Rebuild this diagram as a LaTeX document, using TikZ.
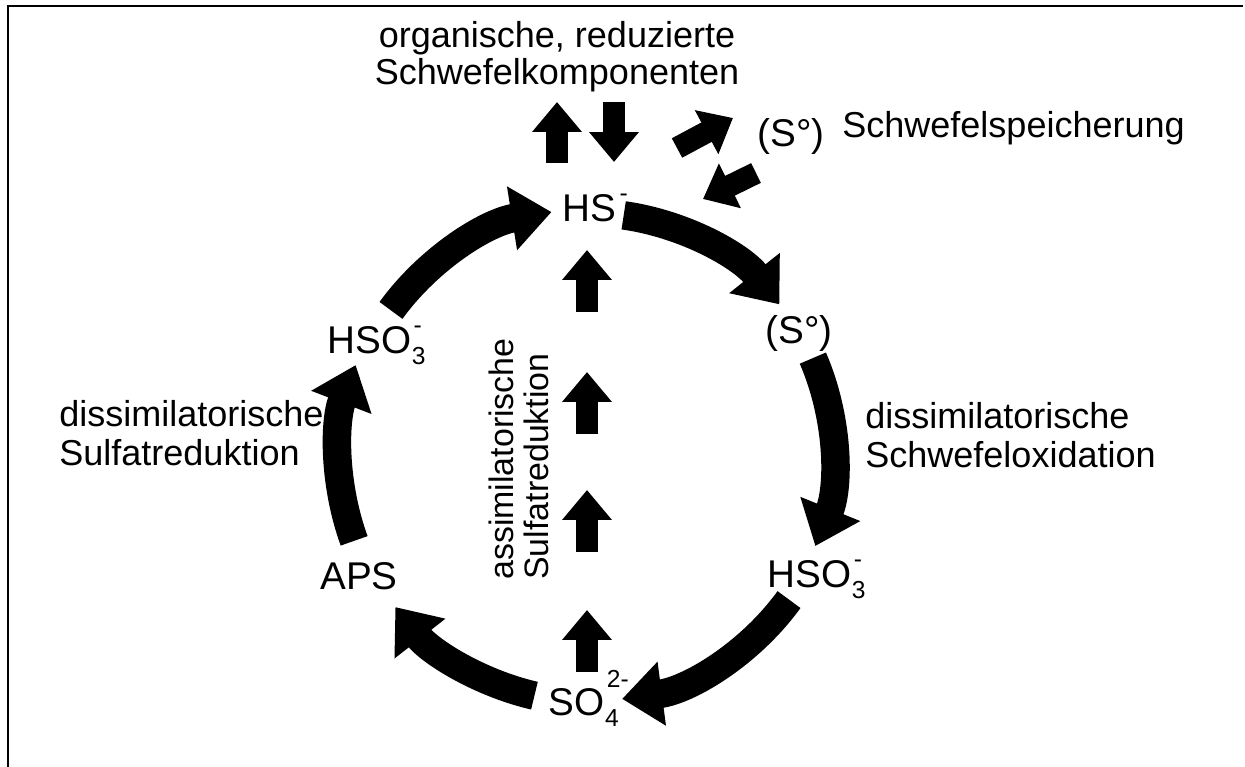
\documentclass[tikz,border=0pt]{standalone}
\usepackage{fontspec}
\setmainfont{Liberation Sans}
\usetikzlibrary{arrows.meta}

% Hoch- und Tiefstellung der Ionen
\newcommand{\ladung}[2][0.5em]{\raisebox{#1}{\fontsize{14}{14}\selectfont #2}}
\newcommand{\anzahl}[1]{\raisebox{-0.3em}{\fontsize{14}{14}\selectfont #1}}

\begin{document}
\begin{tikzpicture}[x=0.02cm, y=-0.02cm,
%
    chem/.style={inner sep=0pt, anchor=base west, font=\fontsize{22}{26}\selectfont},
    txt/.style={inner sep=0pt, align=left, font=\fontsize{20.5}{22.5}\selectfont},
    Pfeil/.style={line width=0.44cm, -{Triangle[length=0.6cm, width=0.96cm]}},
    Ring/.style={line width=0.57cm, -{Triangle[length=0.8cm, width=1.24cm]}},
                        ]
    \useasboundingbox (0,0) rectangle (1245,767);
    \draw[line width=0.05cm] (8,767) -- (8,6) -- (1243,6);

    % Stoffe im Kreislauf
    \node[chem] (hs_node)    at (562,221) {HS\kern2pt\ladung{-}};
    \node[chem] (s0_node)    at (765,343) {(S°)};
    \node[chem] (hso3r_node) at (767,587) {HSO\kern0.5pt\rlap{\kern1pt\ladung{-}}\anzahl{3}};
    \node[chem] (so4_node)   at (548,715) {SO\kern0.5pt\rlap{\kern1pt\ladung[0.72em]{2-}}\anzahl{4}};
    \node[chem] (aps_node)   at (320,589) {APS};
    \node[chem] (hso3l_node) at (327,353) {HSO\kern0.5pt\rlap{\kern1pt\ladung{-}}\anzahl{3}};
    \node[chem] (store_node) at (757,147) {(S°)};

    % Beschriftungen
    \node[txt, align=center, font=\fontsize{20.5}{21}\selectfont] (org_node) at (557,57)
        {organische, reduzierte\\Schwefelkomponenten};
    \node[txt, anchor=base west] (speicher_node) at (842,138) {Schwefelspeicherung};
    \node[txt, anchor=west] (dsr_node) at (59,433) {dissimilatorische\\Sulfatreduktion};
    \node[txt, anchor=west] (dso_node) at (865,435) {dissimilatorische\\Schwefeloxidation};
    \node[txt, anchor=west, rotate=90, font=\fontsize{19.3}{19.5}\selectfont] (asr_node) at (519,580)
        {assimilatorische\\Sulfatreduktion};

    % Kreislauf
    \coordinate (ring) at (590,455);
    \draw[Ring] (ring) ++(216:246)   arc[start angle=216,   end angle=261,   radius=246];
    \draw[Ring] (ring) ++(278:242)   arc[start angle=278,   end angle=321.5, radius=242];
    \draw[Ring] (ring) ++(336.5:243) arc[start angle=336.5, end angle=382,   radius=243];
    \draw[Ring] (ring) ++(36:246)    arc[start angle=36,    end angle=82.5,  radius=246];
    \draw[Ring] (ring) ++(103:247)   arc[start angle=103,   end angle=142,   radius=247];
    \draw[Ring] (ring) ++(160:251)   arc[start angle=160,   end angle=201,   radius=251];

    % assimilatorischer Weg
    \foreach \y [count=\i] in {312,434,552,672} {
        \coordinate (up\i) at (587,\y);
        \draw[Pfeil] (up\i) -- ++(0,-62);
    }

    % Austausch mit organischen Komponenten und Speicher
    \coordinate (out_tail) at (557,163);
    \draw[Pfeil] (out_tail) -- ++(0,-61);
    \coordinate (in_tail) at (614,102);
    \draw[Pfeil] (in_tail) -- ++(0,60);
    \coordinate (store_tail) at (677,148);
    \draw[Pfeil] (store_tail) -- ++(56,-30);
    \coordinate (release_tail) at (756,173);
    \draw[Pfeil] (release_tail) -- ++(-53,26);

\end{tikzpicture}
\end{document}
